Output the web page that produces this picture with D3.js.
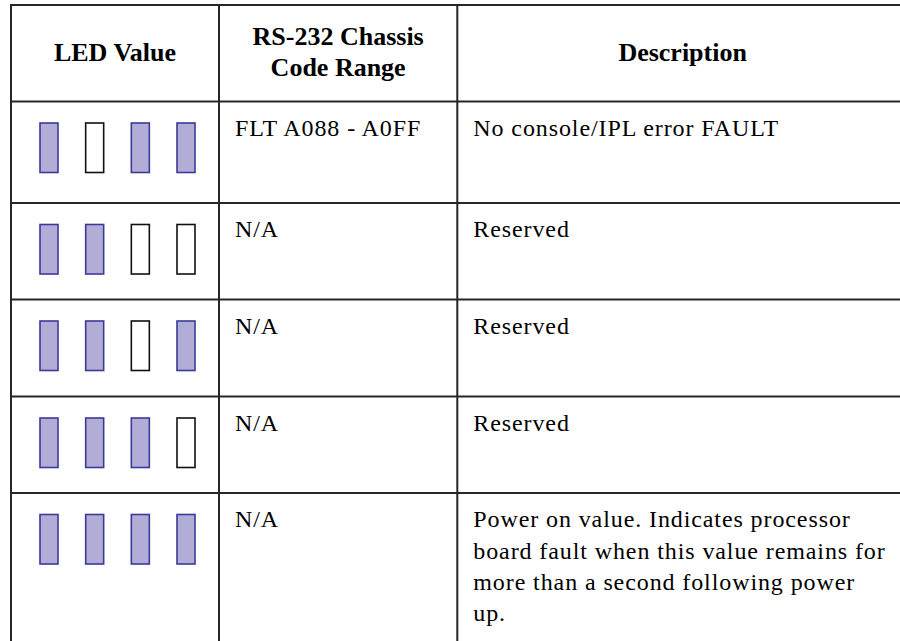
<!DOCTYPE html>
<html>
<head>
<meta charset="utf-8">
<script src="https://cdn.jsdelivr.net/npm/d3@7"></script>
<style>html,body{margin:0;background:#fff}</style>
</head>
<body>
<svg id="chart" width="900" height="641"></svg>
<script>
// ---- data ----
const headers = [["LED Value"], ["RS-232 Chassis", "Code Range"], ["Description"]];
const ledStates = [
  [1, 0, 1, 1],
  [1, 1, 0, 0],
  [1, 1, 0, 1],
  [1, 1, 1, 0],
  [1, 1, 1, 1]
];
const codeRanges = ["FLT A088 - A0FF", "N/A", "N/A", "N/A", "N/A"];
const descriptions = [
  ["No console/IPL error FAULT"],
  ["Reserved"],
  ["Reserved"],
  ["Reserved"],
  ["Power on value. Indicates processor", "board fault when this value remains for", "more than a second following power", "up."]
];

// ---- layout ----
const svg = d3.select("#chart");
const colEdges = [11, 219, 457.3, 908];
const rowEdges = [5, 101.5, 203, 299.5, 396.5, 493, 700];
const lineColor = "#262626";
const lineH = 31.3;

const ledX = d3.scalePoint().domain([0, 1, 2, 3]).range([49, 186]);
const ledW = 18, ledH = 49.5, ledTop = 21.5;

const g = svg.append("g");
g.selectAll("line.h").data(rowEdges.slice(0, 6)).join("line")
  .attr("x1", colEdges[0]).attr("x2", colEdges[3])
  .attr("y1", d => d).attr("y2", d => d)
  .attr("stroke", lineColor).attr("stroke-width", 2);
g.selectAll("line.v").data(colEdges).join("line")
  .attr("x1", d => d).attr("x2", d => d)
  .attr("y1", rowEdges[0] - 1).attr("y2", 641)
  .attr("stroke", lineColor).attr("stroke-width", 2);

function txt(sel, x, y, t, bold, anchor) {
  const el = sel.append("text")
    .attr("x", x).attr("y", y)
    .attr("font-size", bold ? 26 : 24)
    .style("font-family", "'Liberation Serif', monospace")
    .attr("text-anchor", anchor || "start")
    .attr("fill", "#000").text(t);
  if (bold) el.attr("font-weight", "bold");
  else el.style("letter-spacing", "0.9px");
  return el;
}

headers.forEach((lines, i) => {
  const cx = (colEdges[i] + colEdges[i + 1]) / 2;
  const first = lines.length === 1 ? 61 : 45;
  lines.forEach((t, j) => txt(svg, cx, first + j * lineH, t, true, "middle"));
});

ledStates.forEach((states, r) => {
  const top = rowEdges[r + 1];
  const rowG = svg.append("g");
  rowG.selectAll("rect").data(states).join("rect")
    .attr("x", (d, i) => ledX(i) - ledW / 2)
    .attr("y", top + ledTop)
    .attr("width", ledW).attr("height", ledH)
    .attr("fill", d => d ? "#b1add6" : "#ffffff")
    .attr("stroke", d => d ? "#3a3a9a" : "#111111")
    .attr("stroke-width", 1.6);

  txt(rowG, colEdges[1] + 16, top + 34.3, codeRanges[r], false);
  descriptions[r].forEach((t, j) => txt(rowG, colEdges[2] + 16, top + 34.3 + j * lineH, t, false));
});
</script>
</body>
</html>
